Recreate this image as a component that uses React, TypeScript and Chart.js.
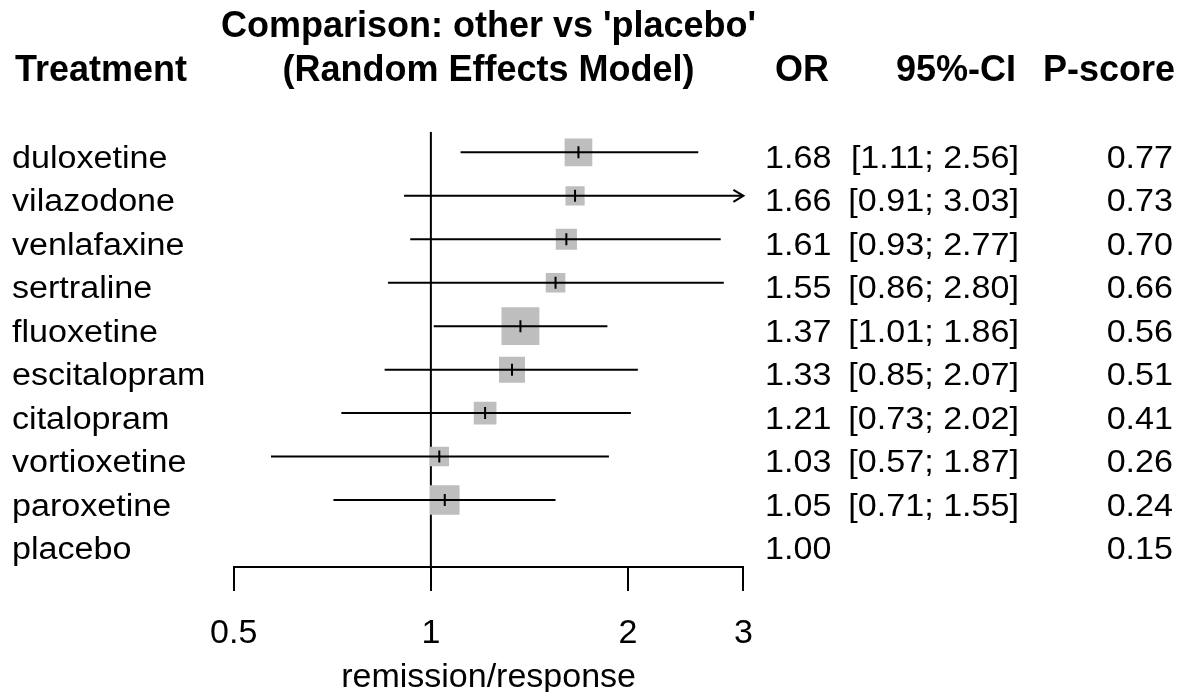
import React, { useEffect, useRef } from 'react';
import { Chart, registerables } from 'chart.js';

Chart.register(...registerables);

// ---- data ----
const treatments = [
  'duloxetine', 'vilazodone', 'venlafaxine', 'sertraline', 'fluoxetine',
  'escitalopram', 'citalopram', 'vortioxetine', 'paroxetine', 'placebo',
];
const orValues = [1.68, 1.66, 1.61, 1.55, 1.37, 1.33, 1.21, 1.03, 1.05, 1.0];
const ciLower: (number | null)[] = [1.11, 0.91, 0.93, 0.86, 1.01, 0.85, 0.73, 0.57, 0.71, null];
const ciUpper: (number | null)[] = [2.56, 3.03, 2.77, 2.8, 1.86, 2.07, 2.02, 1.87, 1.55, null];
const pScores = [0.77, 0.73, 0.7, 0.66, 0.56, 0.51, 0.41, 0.26, 0.24, 0.15];
const axisTicks = [0.5, 1, 2, 3];
const axisTickLabels = ['0.5', '1', '2', '3'];
const referenceValue = 1;
const xAxisTitle = 'remission/response';
const headerTitle1 = "Comparison: other vs 'placebo'";
const headerTitle2 = '(Random Effects Model)';
const headerTreatment = 'Treatment';
const headerOR = 'OR';
const headerCI = '95%-CI';
const headerP = 'P-score';

// ---- style constants ----
const FONT = '"Liberation Sans", Arial, Helvetica, sans-serif';
const BODY_SIZE = 31;
const BODY_SX = 1.1;
const HEAD_SIZE = 36;
const BOX_SCALE = 5.9;
const AXIS_MIN = 0.5;
const AXIS_MAX = 3;
const Y_MIN = -0.474;
const Y_MAX = 9.54;

function drawText(
  ctx: CanvasRenderingContext2D,
  text: string,
  x: number,
  y: number,
  align: CanvasTextAlign,
  font: string,
  sx = 1,
) {
  ctx.save();
  ctx.font = font;
  ctx.fillStyle = '#000';
  ctx.textBaseline = 'alphabetic';
  ctx.textAlign = align;
  ctx.translate(x, y);
  ctx.scale(sx, 1);
  ctx.fillText(text, 0, 0);
  ctx.restore();
}

export default function App() {
  const ref = useRef<HTMLCanvasElement>(null);

  useEffect(() => {
    const canvas = ref.current;
    if (!canvas) return;

    const refLine = [
      { x: referenceValue, y: Y_MIN },
      { x: referenceValue, y: Y_MAX },
    ];

    const ciData: { x: number; y: number | null }[] = [];
    const boxData: { x: number; y: number }[] = [];
    const boxSides: number[] = [];
    treatments.forEach((_, i) => {
      const lo = ciLower[i];
      const hi = ciUpper[i];
      if (lo == null || hi == null) return;
      ciData.push({ x: Math.max(lo, AXIS_MIN), y: i });
      ciData.push({ x: Math.min(hi, AXIS_MAX), y: i });
      ciData.push({ x: orValues[i], y: null });
      boxData.push({ x: orValues[i], y: i });
      const se = (Math.log(hi) - Math.log(lo)) / 3.92;
      boxSides.push(BOX_SCALE / se);
    });

    const textPlugin = {
      id: 'forestText',
      afterDraw(chart: any) {
        const ctx: CanvasRenderingContext2D = chart.ctx;
        const xs = chart.scales.x;
        const ys = chart.scales.y;
        const body = `${BODY_SIZE}px ${FONT}`;
        const head = `bold ${HEAD_SIZE}px ${FONT}`;
        const center = (xs.left + xs.right) / 2;

        // headers
        drawText(ctx, headerTitle1, center, 37, 'center', head);
        drawText(ctx, headerTreatment, 15, 81, 'left', head);
        drawText(ctx, headerTitle2, center, 81, 'center', head);
        drawText(ctx, headerOR, 829, 81, 'right', head);
        drawText(ctx, headerCI, 1016, 81, 'right', head);
        drawText(ctx, headerP, 1175, 81, 'right', head);

        // rows
        treatments.forEach((name, i) => {
          const yb = ys.getPixelForValue(i) + 15.5;
          drawText(ctx, name, 12, yb, 'left', body, BODY_SX);
          drawText(ctx, orValues[i].toFixed(2), 765, yb, 'left', body, BODY_SX);
          const lo = ciLower[i];
          const hi = ciUpper[i];
          if (lo != null && hi != null) {
            drawText(ctx, `[${lo.toFixed(2)}; ${hi.toFixed(2)}]`, 1019, yb, 'right', body, BODY_SX);
          }
          drawText(ctx, pScores[i].toFixed(2), 1173, yb, 'right', body, BODY_SX);

          // arrows for CIs beyond axis limits
          if (hi != null && hi > AXIS_MAX) {
            const px = xs.getPixelForValue(AXIS_MAX);
            const py = ys.getPixelForValue(i);
            ctx.save();
            ctx.strokeStyle = '#000';
            ctx.lineWidth = 2;
            ctx.beginPath();
            ctx.moveTo(px - 10, py - 6);
            ctx.lineTo(px, py);
            ctx.lineTo(px - 10, py + 6);
            ctx.stroke();
            ctx.restore();
          }
        });
      },
    };

    const chart = new Chart(canvas, {
      type: 'line',
      data: {
        datasets: [
          {
            type: 'line',
            data: refLine,
            borderColor: '#000',
            borderWidth: 2,
            pointRadius: 0,
            order: 4,
          } as any,
          {
            type: 'scatter',
            data: boxData,
            pointStyle: 'rect',
            pointRadius: (c: any) => (boxSides[c.dataIndex] || 0) / Math.SQRT2,
            pointHoverRadius: (c: any) => (boxSides[c.dataIndex] || 0) / Math.SQRT2,
            backgroundColor: '#bebebe',
            borderWidth: 0,
            order: 3,
          } as any,
          {
            type: 'line',
            data: ciData,
            borderColor: '#000',
            borderWidth: 2,
            pointRadius: 0,
            spanGaps: false,
            order: 2,
          } as any,
          {
            type: 'scatter',
            data: boxData,
            pointStyle: 'line',
            rotation: 90,
            pointRadius: 6,
            pointHoverRadius: 6,
            borderColor: '#000',
            borderWidth: 2,
            order: 1,
          } as any,
        ],
      },
      options: {
        animation: false,
        responsive: false,
        events: [],
        layout: {
          padding: { left: 233.7, right: 436.6, top: 131.7, bottom: 0 },
        },
        plugins: {
          legend: { display: false },
          tooltip: { enabled: false },
        },
        scales: {
          x: {
            type: 'logarithmic',
            min: AXIS_MIN,
            max: AXIS_MAX,
            afterBuildTicks: (scale: any) => {
              scale.ticks = axisTicks.map((v) => ({ value: v }));
            },
            afterFit: (scale: any) => {
              scale.height = 125;
            },
            ticks: {
              autoSkip: false,
              maxRotation: 0,
              minRotation: 0,
              padding: 21.8,
              color: '#000',
              font: { family: FONT, size: 34, lineHeight: 1.2 },
              callback: (v: any) => {
                const idx = axisTicks.indexOf(Number(v));
                return idx >= 0 ? axisTickLabels[idx] : '';
              },
            },
            grid: {
              display: true,
              drawOnChartArea: false,
              drawTicks: true,
              tickLength: 24,
              tickWidth: 2,
              tickColor: '#000',
              lineWidth: 2,
              color: '#000',
            },
            border: { display: true, color: '#000', width: 2 },
            title: {
              display: true,
              text: xAxisTitle,
              color: '#000',
              font: { family: FONT, size: 34, lineHeight: 0.8 },
              padding: { top: 0, bottom: 0.4 },
            },
          },
          y: {
            type: 'linear',
            display: false,
            min: Y_MIN,
            max: Y_MAX,
            reverse: true,
          },
        },
      } as any,
      plugins: [textPlugin],
    });

    return () => chart.destroy();
  }, []);

  return (
    <div
      style={{
        position: 'absolute',
        left: 0,
        top: 0,
        width: 1180,
        height: 692,
        background: '#fff',
        overflow: 'hidden',
      }}
    >
      <canvas ref={ref} width={1180} height={692} style={{ display: 'block', width: 1180, height: 692 }} />
    </div>
  );
}
